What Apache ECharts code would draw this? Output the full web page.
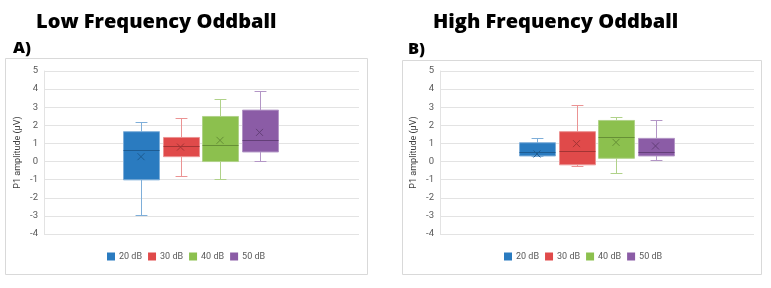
<!DOCTYPE html>
<html>
<head>
<meta charset="utf-8">
<script src="https://cdn.jsdelivr.net/npm/echarts@6/dist/echarts.min.js"></script>
<style>
  html, body { margin: 0; padding: 0; background: #fff; }
  #main { width: 771px; height: 288px; }
</style>
</head>
<body>
<div id="main"></div>
<script>
// levels shown in both panels
const levels = ['20 dB', '30 dB', '40 dB', '50 dB']

// Low frequency oddball, P1 amplitude (µV)
const lowMin = [-2.97, -0.81, -0.96, 0.05]
const lowQ1 = [-1.01, 0.27, 0.0, 0.53]
const lowMedian = [0.62, 0.86, 0.89, 1.17]
const lowQ3 = [1.65, 1.33, 2.49, 2.84]
const lowMax = [2.16, 2.43, 3.44, 3.92]
const lowMean = [0.27, 0.8, 1.17, 1.61]

// High frequency oddball, P1 amplitude (µV)
const highMin = [0.31, -0.25, -0.64, 0.07]
const highQ1 = [0.31, -0.18, 0.18, 0.31]
const highMedian = [0.55, 0.59, 1.37, 0.51]
const highQ3 = [1.04, 1.65, 2.27, 1.28]
const highMax = [1.28, 3.15, 2.44, 2.27]
const highMean = [0.42, 0.99, 1.06, 0.86]

const yTicks = { min: -4, max: 5, interval: 1 }

const palette = [
  { fill: '#2a7bc0', dark: '#1d5b91', light: '#7eaed9' },
  { fill: '#e04a4a', dark: '#a33434', light: '#eb9393' },
  { fill: '#8cc04e', dark: '#668f36', light: '#b0d289' },
  { fill: '#8b5ca6', dark: '#633f78', light: '#b396c6' }
]

const axisFont = 'Roboto, "Liberation Sans", sans-serif'
const titleFont = '"Open Sans", "DejaVu Sans", sans-serif'

function boxSeries (idx, xAxisIndex, yAxisIndex, mins, q1s, meds, q3s, maxs, means) {
  const pal = palette[idx]
  return {
    type: 'custom',
    name: levels[idx],
    xAxisIndex,
    yAxisIndex,
    itemStyle: { color: pal.fill },
    encode: { x: 0, y: [1, 2, 3, 4, 5, 6] },
    data: [[idx, mins[idx], q1s[idx], meds[idx], q3s[idx], maxs[idx], means[idx]]],
    renderItem (params, api) {
      const i = api.value(0)
      const pt = v => api.coord([i, v])
      const band = api.size([1, 0])[0]
      const w = band * 0.91
      const cap = band * 0.3
      const cx = Math.round(pt(0)[0]) + 0.5
      const yMin = Math.round(pt(api.value(1))[1]) + 0.5
      const yQ1 = pt(api.value(2))[1]
      const yMed = Math.round(pt(api.value(3))[1]) + 0.5
      const yQ3 = pt(api.value(4))[1]
      const yMax = Math.round(pt(api.value(5))[1]) + 0.5
      const [mx, my] = pt(api.value(6))
      const thin = { stroke: pal.light, lineWidth: 1 }
      const d = 3.5
      return {
        type: 'group',
        children: [
          { type: 'line', shape: { x1: cx, y1: yMax, x2: cx, y2: yQ3 }, style: thin },
          { type: 'line', shape: { x1: cx, y1: yQ1, x2: cx, y2: yMin }, style: thin },
          { type: 'line', shape: { x1: cx - cap / 2, y1: yMax, x2: cx + cap / 2, y2: yMax }, style: thin },
          { type: 'line', shape: { x1: cx - cap / 2, y1: yMin, x2: cx + cap / 2, y2: yMin }, style: thin },
          {
            type: 'rect',
            shape: { x: cx - w / 2, y: yQ3, width: w, height: yQ1 - yQ3 },
            style: { fill: pal.fill, stroke: pal.light, lineWidth: 1 }
          },
          { type: 'line', shape: { x1: cx - w / 2, y1: yMed, x2: cx + w / 2, y2: yMed }, style: { stroke: pal.dark, lineWidth: 1 } },
          { type: 'line', shape: { x1: mx - d, y1: my - d, x2: mx + d, y2: my + d }, style: { stroke: pal.dark, lineWidth: 1 } },
          { type: 'line', shape: { x1: mx - d, y1: my + d, x2: mx + d, y2: my - d }, style: { stroke: pal.dark, lineWidth: 1 } }
        ]
      }
    }
  }
}

function valueAxis (gridIndex, visible) {
  return {
    type: 'value',
    gridIndex,
    ...yTicks,
    show: visible,
    name: visible ? 'P1 amplitude (µV)' : '',
    nameLocation: 'middle',
    nameGap: 22,
    nameTextStyle: { fontFamily: axisFont, fontSize: 9, color: '#404040' },
    axisLine: { show: true, lineStyle: { color: '#e3e3e3' } },
    axisTick: { show: false },
    axisLabel: { fontFamily: axisFont, fontSize: 9.5, color: '#595959', margin: 6 },
    splitLine: { lineStyle: { color: '#e3e3e3' } }
  }
}

const series = []
levels.forEach((_, k) => {
  series.push(boxSeries(k, 1, 1, lowMin, lowQ1, lowMedian, lowQ3, lowMax, lowMean))
})
levels.forEach((_, k) => {
  series.push(boxSeries(k, 3, 3, highMin, highQ1, highMedian, highQ3, highMax, highMean))
})

const legendBase = {
  data: levels,
  icon: 'rect',
  itemWidth: 8,
  itemHeight: 8,
  itemGap: 6,
  top: 252,
  padding: 0,
  selectedMode: false,
  textStyle: { fontFamily: axisFont, fontSize: 9, color: '#595959', padding: [0, 0, 0, -1] }
}

const titleStyle = size => ({ fontFamily: titleFont, fontSize: size, fontWeight: 800, color: '#000' })

const option = {
  animation: false,
  backgroundColor: '#fff',
  title: [
    { text: 'Low Frequency Oddball', left: 31, top: 7.5, textStyle: titleStyle(20) },
    { text: 'A)', left: 8, top: 35, textStyle: titleStyle(16.5) },
    { text: 'High Frequency Oddball', left: 428, top: 7.5, textStyle: titleStyle(20) },
    { text: 'B)', left: 403, top: 36, textStyle: titleStyle(16.5) }
  ],
  graphic: [
    { type: 'rect', shape: { x: 5.5, y: 58.5, width: 362, height: 216 }, style: { fill: 'none', stroke: '#d9d9d9' }, silent: true },
    { type: 'rect', shape: { x: 402.5, y: 60.5, width: 359, height: 214 }, style: { fill: 'none', stroke: '#d9d9d9' }, silent: true }
  ],
  legend: [
    { ...legendBase, left: 107 },
    { ...legendBase, left: 504 }
  ],
  grid: [
    { left: 44, top: 71, width: 315, height: 163 },
    { left: 121.25, top: 71, width: 158, height: 163 },
    { left: 440, top: 71, width: 314, height: 163 },
    { left: 517.25, top: 71, width: 158, height: 163 }
  ],
  xAxis: [
    { type: 'category', gridIndex: 0, data: [''], show: false },
    { type: 'category', gridIndex: 1, data: levels, show: false },
    { type: 'category', gridIndex: 2, data: [''], show: false },
    { type: 'category', gridIndex: 3, data: levels, show: false }
  ],
  yAxis: [valueAxis(0, true), valueAxis(1, false), valueAxis(2, true), valueAxis(3, false)],
  series
}

const chart = echarts.init(document.getElementById('main'), null, { renderer: 'canvas' })
chart.setOption(option)
window.addEventListener('resize', () => chart.resize())
</script>
</body>
</html>
